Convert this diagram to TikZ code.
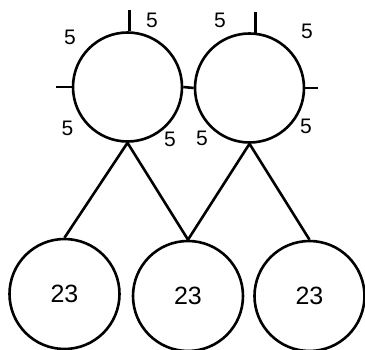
\documentclass[tikz,border=0pt]{standalone}
\usepackage{fontspec}
\setmainfont{Liberation Sans}
\begin{document}
\begin{tikzpicture}[x=1pt,y=1pt,line width=2.6pt,
    top/.style={draw,circle,minimum size=109pt,inner sep=0pt},
    leaf/.style={draw,circle,minimum size=110pt,inner sep=0pt,font=\fontsize{25}{28}\selectfont},
    val/.style={inner sep=0pt,font=\fontsize{21}{24}\selectfont}]
      \useasboundingbox (0,0) rectangle (365,349);
      % top circles
      \node[top] at (127.5,262) (T1) {};
      \node[top] at (249.5,261) (T2) {};
      \draw (T1.east) -- (T2.west);
      % ticks
      \draw (T1.88) -- ++(0,21) coordinate (T1n);
      \draw (T1.west) -- ++(-16,0) coordinate (T1w);
      \draw (T2.84) -- ++(0,21) coordinate (T2n);
      \draw (T2.east) -- ++(13,0) coordinate (T2e);
      % labels of the first circle
      \node[val] at (152,329) (A1) {5};
      \node[val] at (70,312) (A2) {5};
      \node[val] at (67.5,221) (A3) {5};
      \node[val] at (170,209.5) (A4) {5};
      % labels of the second circle
      \node[val] at (220,329) (B1) {5};
      \node[val] at (307,318) (B2) {5};
      \node[val] at (306,222.5) (B3) {5};
      \node[val] at (202,210.5) (B4) {5};
      % bottom circles
      \node[leaf] at (64.5,55) (C1) {23};
      \node[leaf] at (188,53) (C2) {23};
      \node[leaf] at (309.5,53) (C3) {23};
      \draw (C1.north) -- (T1.south) -- (C2.north);
      \draw (C2.north) -- (T2.south) -- (C3.north);
    \end{tikzpicture}
\end{document}
